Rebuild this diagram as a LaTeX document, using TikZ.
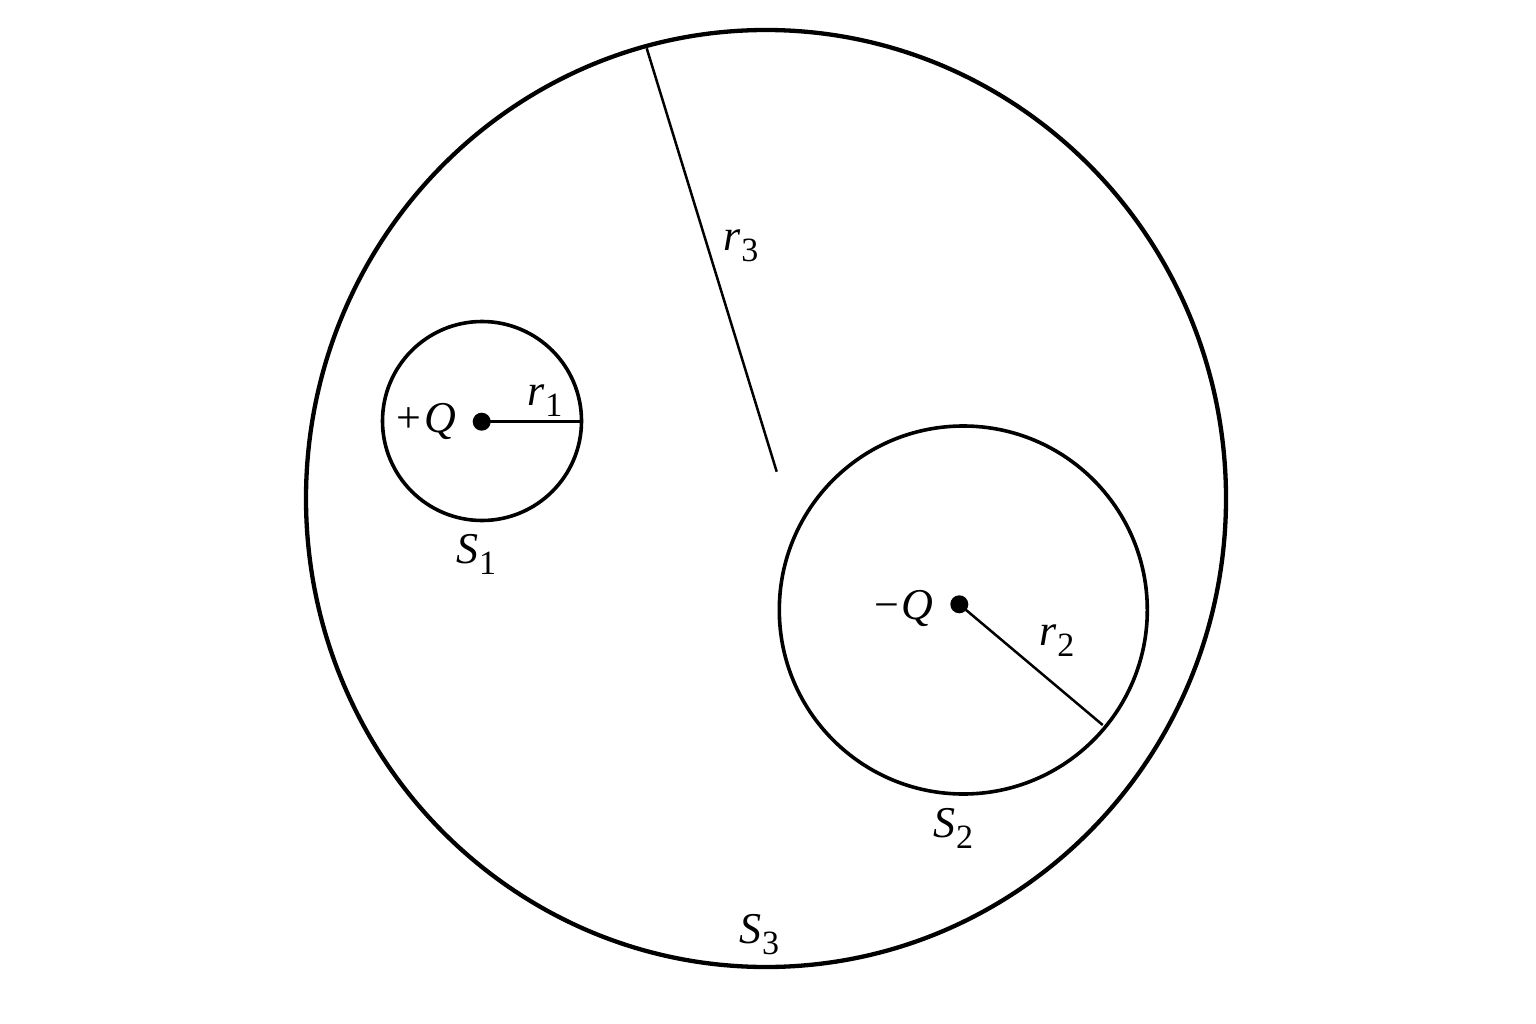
\documentclass[tikz,border=0pt]{standalone}
\usepackage{fontspec}
\setmainfont{Liberation Serif}
\newcommand\lbl[2]{{\itshape #1}\hspace{1pt}\raisebox{-11pt}{\fontsize{34}{34}\selectfont #2}}
\begin{document}
\begin{tikzpicture}[x=1pt,y=-1pt,
  outer/.style={line width=4.3pt},
  sphere/.style={line width=3.6pt},
  radius line/.style={line width=2.5pt},
  charge/.style={circle,fill=black,inner sep=0pt,minimum size=18pt},
  label/.style={anchor=base west,inner sep=0pt,font=\fontsize{44}{44}\selectfont},
  qlabel/.style={label}]
\useasboundingbox (0,0) rectangle (1536,1024);
% outer surface S3
\coordinate (c3) at (766,498.5);
\draw[outer] (c3) ellipse [x radius=460, y radius=468.5];
\coordinate (r3top) at (646.7,48.3);
\coordinate (r3end) at (776.7,471.7);
\draw[radius line] (r3top) -- (r3end);
% S1
\coordinate (c1) at (482,421);
\draw[sphere] (c1) circle [radius=99.5];
\node[charge] (q1) at (481.7,421.7) {};
\coordinate (r1end) at (581.5,421.7);
\draw[radius line] (q1.center) -- (r1end);
% S2
\coordinate (c2) at (963.3,610);
\draw[sphere] (c2) circle [radius=184];
\node[charge] (q2) at (959.3,604.3) {};
\coordinate (r2end) at (1102.7,725);
\draw[radius line] (q2.center) -- (r2end);
% labels
\node[qlabel] (lpq) at (396,432) {+\hspace{3pt}\itshape Q};
\node[label] (lr1) at (527,405) {\lbl{r}{1}};
\node[label] (ls1) at (456,563) {\lbl{S}{1}};
\node[qlabel] (lmq) at (874,619) {−\hspace{2pt}\itshape Q};
\node[label] (lr2) at (1039,645) {\lbl{r}{2}};
\node[label] (ls2) at (933,837) {\lbl{S}{2}};
\node[label] (lr3) at (723,251) {\lbl{r}{3}};
\node[label] (ls3) at (739,943) {\lbl{S}{3}};
\end{tikzpicture}
\end{document}
